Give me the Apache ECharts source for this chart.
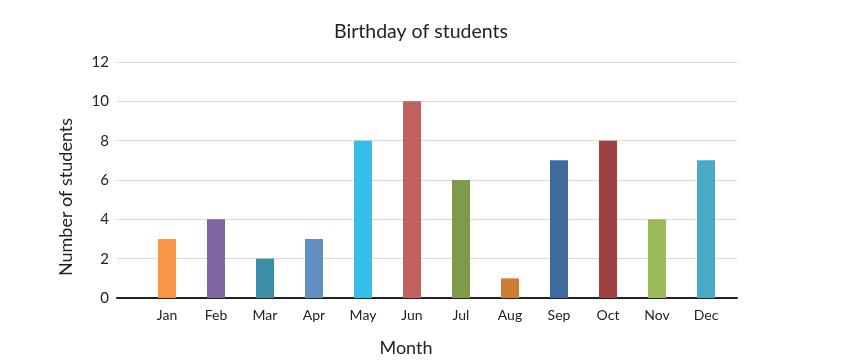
<!DOCTYPE html>
<html><head><meta charset="utf-8">
<script src="https://cdn.jsdelivr.net/npm/echarts@6/dist/echarts.min.js"></script>
<style>html,body{margin:0;padding:0;background:#fff}#c{width:848px;height:363px}</style>
</head><body><div id="c"></div>
<script>
const months = ['Jan','Feb','Mar','Apr','May','Jun','Jul','Aug','Sep','Oct','Nov','Dec'];
const students = [3,4,2,3,8,10,6,1,7,8,4,7];
const barColors = ['#F79646','#8064A2','#3A8EA5','#6190C0','#36BDEA','#C0605F','#7F9A48','#D07B36','#3E6A9E','#9E4040','#9BBB59','#47ABC7'];
const yTicks = {min:0, max:12, interval:2};
const FONT = 'Lato';

const chart = echarts.init(document.getElementById('c'));
chart.setOption({
  animation:false,
  title:{text:'Birthday of students', left:416, top:17, textAlign:'center',
    textStyle:{fontFamily:FONT, fontSize:19.5, fontWeight:'normal', color:'#222'}},
  grid:[
    {left:142.5, width:588, top:62, bottom:65, outerBoundsMode:'none', containLabel:false},
    {left:117, right:111, top:62, bottom:65, outerBoundsMode:'none', containLabel:false}
  ],
  xAxis:[
    {type:'category', gridIndex:0, data:months,
      axisLine:{show:false}, axisTick:{show:false},
      axisLabel:{fontFamily:FONT, fontSize:14, color:'#222', margin:10}},
    {type:'value', gridIndex:1, min:0, max:1, axisLabel:{show:false}, axisTick:{show:false},
      splitLine:{show:false}, axisLine:{show:true, onZero:false, lineStyle:{color:'#222', width:2}},
      name:'Month', nameLocation:'middle', nameGap:41,
      nameTextStyle:{fontFamily:FONT, fontSize:18, color:'#222', padding:[0,42,0,0]}}
  ],
  yAxis:[
    {type:'value', gridIndex:0, min:yTicks.min, max:yTicks.max, interval:yTicks.interval,
      axisLabel:{show:false}, splitLine:{show:false}, axisLine:{show:false}, axisTick:{show:false}},
    {type:'value', gridIndex:1, min:yTicks.min, max:yTicks.max, interval:yTicks.interval,
      axisLine:{show:false}, axisTick:{show:false},
      axisLabel:{fontFamily:FONT, fontSize:15, color:'#222', margin:8},
      splitLine:{lineStyle:{color:'#d9d9d9', width:1}},
      name:'Number of students', nameLocation:'middle', nameGap:42,
      nameTextStyle:{fontFamily:FONT, fontSize:18, color:'#222', padding:[0,34,0,0]}}
  ],
  series:[{
    type:'bar', xAxisIndex:0, yAxisIndex:0, barWidth:18,
    data: students.map((v,i)=>({value:v, itemStyle:{color:barColors[i]}}))
  }]
});
</script></body></html>
